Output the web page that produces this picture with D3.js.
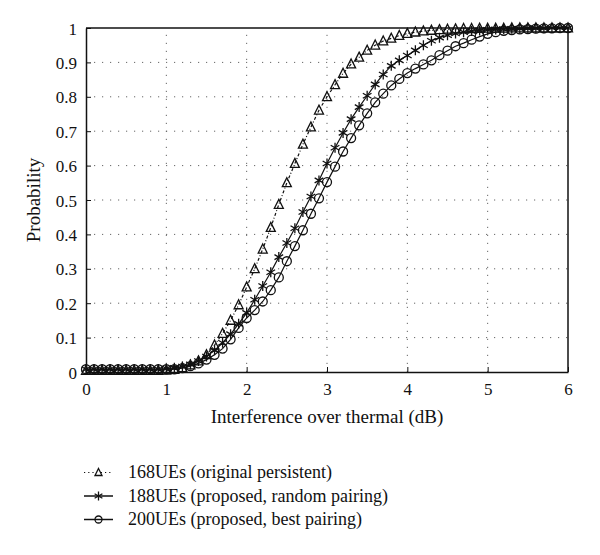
<!DOCTYPE html>
<html><head><meta charset="utf-8">
<script src="https://cdn.jsdelivr.net/npm/d3@7"></script>
<style>body{margin:0;background:#fff}svg{display:block}text{font-family:"Liberation Serif","Times New Roman",serif;fill:#111}</style>
</head><body>
<svg id="c" width="600" height="555"></svg>
<script>
// x values: 0 to 6 dB, step 0.1
const xs = d3.range(61).map(i => i / 10);
const xTicks = [0, 1, 2, 3, 4, 5, 6];
const yTicks = [0, 0.1, 0.2, 0.3, 0.4, 0.5, 0.6, 0.7, 0.8, 0.9, 1];
const seriesNames = ["168UEs (original persistent)", "188UEs (proposed, random pairing)", "200UEs (proposed, best pairing)"];
const ue168 = [0.004,0.004,0.004,0.004,0.004,0.004,0.004,0.004,0.004,0.004,
  0.005,0.007,0.012,0.02,0.032,0.05,0.078,0.112,0.15,0.195,
  0.247,0.30,0.357,0.42,0.487,0.55,0.606,0.662,0.712,0.761,
  0.80,0.835,0.868,0.895,0.915,0.935,0.950,0.962,0.970,0.978,
  0.984,0.988,0.991,0.993,0.995,0.996,0.997,0.998,0.998,0.999,
  0.999,0.999,0.999,1,1,1,1,1,1,1,1];
const ue188 = [0.008,0.008,0.008,0.008,0.008,0.008,0.008,0.008,0.008,0.008,
  0.01,0.012,0.016,0.022,0.032,0.045,0.063,0.085,0.11,0.14,
  0.172,0.21,0.25,0.29,0.334,0.375,0.418,0.465,0.51,0.557,
  0.606,0.652,0.695,0.735,0.77,0.803,0.836,0.865,0.89,0.906,
  0.92,0.935,0.95,0.963,0.972,0.979,0.984,0.988,0.991,0.993,
  0.995,0.996,0.997,0.998,0.998,0.999,0.999,0.999,1,1,1];
const ue200 = [0.008,0.008,0.008,0.008,0.008,0.008,0.008,0.008,0.008,0.008,
  0.008,0.008,0.011,0.017,0.025,0.036,0.05,0.068,0.095,0.128,
  0.157,0.18,0.205,0.238,0.275,0.322,0.366,0.412,0.46,0.505,
  0.552,0.597,0.641,0.68,0.717,0.752,0.784,0.809,0.833,0.852,
  0.869,0.882,0.894,0.906,0.921,0.934,0.947,0.956,0.966,0.975,
  0.983,0.988,0.992,0.994,0.996,0.997,0.998,0.999,0.999,1,1];
const seriesValues = [ue168, ue188, ue200];
const markers = ["triangle", "asterisk", "circle"];
const dashes = ["3,2,1,2", null, null];

const svg = d3.select("#c");
const L = 86, R = 568, T = 28, B = 372;
const x = d3.scaleLinear().domain([0, 6]).range([L, R]);
const y = d3.scaleLinear().domain([0, 1]).range([B, T]);

// grid
const grid = svg.append("g").attr("stroke", "#666").attr("stroke-width", 1).attr("stroke-dasharray", "1.2,6.8");
grid.selectAll("line.v").data(xTicks.slice(1, -1)).join("line")
  .attr("x1", d => x(d)).attr("x2", d => x(d)).attr("y1", B).attr("y2", T);
grid.selectAll("line.h").data(yTicks.slice(1, -1)).join("line")
  .attr("y1", d => y(d)).attr("y2", d => y(d)).attr("x1", L).attr("x2", R);

// axes
const xAxis = svg.append("g").attr("transform", `translate(0,${B})`)
  .call(d3.axisBottom(x).tickValues(xTicks).tickFormat(d3.format("d")).tickSizeInner(-5).tickSizeOuter(0).tickPadding(11));
const yAxis = svg.append("g").attr("transform", `translate(${L},0)`)
  .call(d3.axisLeft(y).tickValues(yTicks).tickFormat(d => d === 0 || d === 1 ? String(d) : d3.format(".1f")(d)).tickSizeInner(-5).tickSizeOuter(0).tickPadding(9));
[xAxis, yAxis].forEach(a => {
  a.select(".domain").attr("stroke", "#111").attr("stroke-width", 1.5);
  a.selectAll(".tick line").attr("stroke", "#111").attr("stroke-width", 1);
  a.selectAll(".tick text").attr("font-size", 17).attr("fill", "#111").style("font-family", "Liberation Serif, serif");
});
yAxis.selectAll(".tick text").attr("dy", "0.36em");
// box top/right
svg.append("line").attr("x1", L).attr("x2", R).attr("y1", T).attr("y2", T).attr("stroke", "#111").attr("stroke-width", 1.5);
svg.append("line").attr("x1", R).attr("x2", R).attr("y1", T).attr("y2", B).attr("stroke", "#111").attr("stroke-width", 1.5);

function markerPath(type, s) {
  if (type === "triangle") {
    const h = s * 0.95;
    return `M0,${-h * 0.6}L${s / 2},${h * 0.45}L${-s / 2},${h * 0.45}Z`;
  }
  if (type === "circle") {
    const r = s / 2;
    return `M${r},0A${r},${r} 0 1,1 ${-r},0A${r},${r} 0 1,1 ${r},0Z`;
  }
  const r = s / 2, c = Math.cos(Math.PI / 6) * r, sn = Math.sin(Math.PI / 6) * r;
  return `M0,${-r}L0,${r}M${-c},${-sn}L${c},${sn}M${-c},${sn}L${c},${-sn}`;
}

const line = d3.line().x(d => x(d[0])).y(d => y(d[1]));
seriesValues.forEach((vals, i) => {
  const pts = xs.map((xv, j) => [xv, vals[j]]);
  const g = svg.append("g");
  g.append("path").datum(pts).attr("d", line).attr("fill", "none").attr("stroke", "#111")
    .attr("stroke-width", 1.2).attr("stroke-dasharray", dashes[i]);
  g.selectAll("path.m").data(pts).join("path").attr("class", "m")
    .attr("transform", d => `translate(${x(d[0])},${y(d[1])})`)
    .attr("d", markerPath(markers[i], markers[i] === "asterisk" ? 10 : 9))
    .attr("fill", "none").attr("stroke", "#111").attr("stroke-width", 1.3);
});

// axis titles
svg.append("text").attr("x", (L + R) / 2).attr("y", 423).attr("text-anchor", "middle").attr("font-size", 19)
  .text("Interference over thermal (dB)");
svg.append("text").attr("transform", `translate(40,${(T + B) / 2}) rotate(-90)`).attr("text-anchor", "middle").attr("font-size", 19)
  .text("Probability");

// legend
const lg = svg.append("g");
seriesNames.forEach((name, i) => {
  const by = 478 + i * 23.5, my = by - 5.5;
  lg.append("line").attr("x1", 84).attr("x2", 113).attr("y1", my).attr("y2", my)
    .attr("stroke", "#111").attr("stroke-width", i === 0 ? 1.2 : 1.5)
    .attr("stroke-dasharray", i === 0 ? "1.2,3" : null);
  lg.append("path").attr("transform", `translate(98.5,${my})`)
    .attr("d", markerPath(markers[i], markers[i] === "asterisk" ? 9 : 7))
    .attr("fill", i === 0 ? "#fff" : "none").attr("stroke", "#111").attr("stroke-width", 1.3);
  lg.append("text").attr("x", 128).attr("y", by).attr("font-size", 18).text(name);
});
</script>
</body></html>
